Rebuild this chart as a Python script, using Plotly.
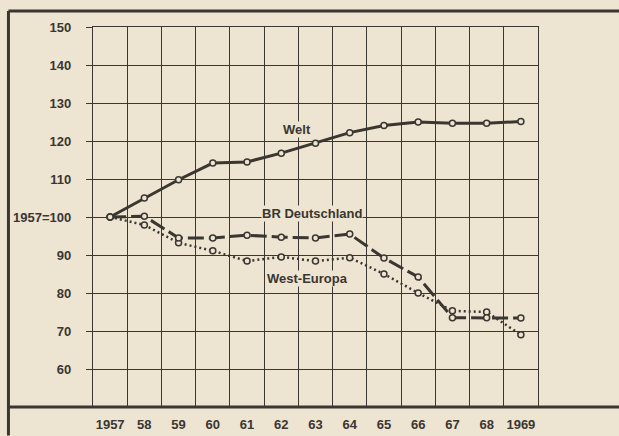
import plotly.graph_objects as go

years = ["1957", "58", "59", "60", "61", "62", "63", "64", "65", "66", "67", "68", "1969"]
welt = [100, 105, 109.8, 114.2, 114.5, 116.8, 119.4, 122.2, 124.1, 125.0, 124.7, 124.7, 125.1]
brd = [100, 100.2, 94.5, 94.5, 95.2, 94.7, 94.5, 95.5, 89.2, 84.2, 73.5, 73.5, 73.4]
westeuropa = [100, 97.9, 93.2, 91.1, 88.4, 89.5, 88.4, 89.3, 85.0, 80.0, 75.3, 75.0, 69.0]
y_ticks = [60, 70, 80, 90, 100, 110, 120, 130, 140, 150]
y_ticktext = ["60", "70", "80", "90", "1957=100", "110", "120", "130", "140", "150"]

BG = "#ede4d2"
INK = "#3a3631"
FONT = "Liberation Sans Narrow, Liberation Sans, Arial, sans-serif"

fig = go.Figure()

def add(series, dash, width):
    fig.add_trace(go.Scatter(
        x=years, y=series, mode="lines+markers",
        line=dict(color=INK, width=width, dash=dash),
        marker=dict(symbol="circle", size=6, color=BG, line=dict(color=INK, width=1.5)),
        showlegend=False, hoverinfo="skip"))

add(westeuropa, "2px,3px", 2.5)
add(brd, "16px,5px", 3)
add(welt, "solid", 3)

fig.update_layout(
    width=619, height=436,
    margin=dict(l=93, r=81, t=27, b=29, autoexpand=False),
    paper_bgcolor=BG, plot_bgcolor=BG,
    font=dict(family=FONT, color=INK, size=13),
)
fig.update_xaxes(
    type="category", range=[-0.5, 12.5], tickson="boundaries",
    showgrid=True, gridcolor=INK, gridwidth=1.3,
    showline=True, mirror=True, linecolor=INK, linewidth=1.3,
    ticks="", tickangle=0, ticklabelstandoff=5, zeroline=False,
    automargin=False,
    tickfont=dict(family=FONT, size=13, weight="bold", color=INK),
)
fig.update_yaxes(
    range=[50, 150], tickvals=y_ticks, ticktext=y_ticktext,
    showgrid=True, gridcolor=INK, gridwidth=1.3,
    showline=True, mirror=True, linecolor=INK, linewidth=1.3,
    ticks="outside", ticklen=6, tickwidth=1.3, tickcolor=INK,
    ticklabelstandoff=12, zeroline=False,
    automargin=False,
    tickfont=dict(family=FONT, size=13, weight="bold", color=INK),
)

# outer frame of the printed figure
frame = dict(color=INK, width=3)
fig.add_shape(type="line", xref="paper", yref="paper", x0=-0.19, x1=1.2, y0=1.042, y1=1.042, line=frame)
fig.add_shape(type="line", xref="paper", yref="paper", x0=-0.19, x1=1.2, y0=0, y1=0, line=frame)
fig.add_shape(type="line", xref="paper", yref="paper", x0=-0.19, x1=-0.19, y0=1.042, y1=-0.075, line=frame)

labels = [("Welt", 5.46, 122.9), ("BR Deutschland", 5.9, 101.0), ("West-Europa", 5.78, 83.7)]
for text, lx, ly in labels:
    fig.add_annotation(x=lx, y=ly, xref="x", yref="y", text=text, showarrow=False,
                       font=dict(family=FONT, size=13, weight="bold", color=INK),
                       bgcolor=BG, borderpad=0)

fig.write_html("out.html", config={"displayModeBar": False},
               post_script="document.body.style.margin='0';document.body.style.overflow='hidden';document.body.style.background='#ede4d2';")
